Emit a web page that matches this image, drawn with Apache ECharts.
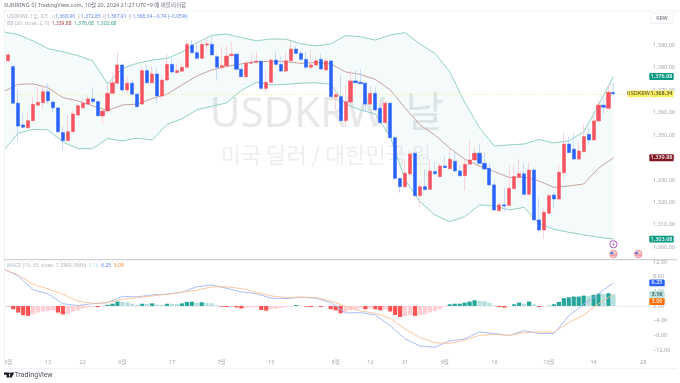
<!DOCTYPE html>
<html><head><meta charset="utf-8">
<style>html,body{margin:0;padding:0;background:#fff}#c{width:680px;height:383px}</style>
<script src="https://cdn.jsdelivr.net/npm/echarts@6/dist/echarts.min.js"></script>
</head><body><div id="c"></div>
<script>
const FONT='"Noto Sans","Noto Sans CJK KR",sans-serif';
const categoryCount=131;
const timeLabels={1:'5월',9:'13',16:'22',24:'6월',34:'17',44:'7월',54:'15',67:'8월',74:'12',81:'21',89:'9월',99:'16',110:'10월',119:'14',129:'28'};
const categories=Array.from({length:categoryCount},(_,i)=>timeLabels[i]||'');
const priceTicks=[1300,1310,1320,1330,1340,1350,1360,1370,1380,1390];
const macdTicks=[-12,-8,-4,0,4,8];

const opens=[1373.8,1383.1,1380.5,1364.2,1354.5,1353.2,1356.4,1363.3,1364.4,1369.3,1364.7,1362.1,1351.1,1347.5,1351.5,1358.9,1362.2,1363.8,1366.1,1364.9,1358.5,1360.7,1368.6,1373.1,1381.2,1370.1,1373.1,1368.2,1363.8,1378.7,1373.3,1377.2,1367.4,1374.5,1381.5,1377.8,1378.4,1380.2,1390.1,1386.7,1384.2,1390.1,1390.4,1384.9,1380.2,1380.8,1385.4,1386.0,1379.3,1376.0,1382.0,1382.4,1382.9,1370.8,1373.5,1383.4,1381.5,1378.5,1383.1,1388.3,1386.4,1383.7,1380.2,1381.2,1383.7,1379.0,1383.0,1367.0,1367.1,1356.4,1364.7,1374.1,1373.5,1373.1,1363.8,1368.6,1361.9,1355.5,1364.2,1348.8,1330.7,1327.0,1332.7,1341.9,1323.0,1327.0,1325.8,1333.7,1331.5,1336.2,1335.0,1338.3,1334.0,1331.9,1337.0,1338.9,1341.9,1337.4,1335.2,1327.8,1316.3,1318.9,1318.7,1326.1,1331.2,1332.7,1323.6,1334.4,1312.2,1307.7,1315.2,1323.3,1321.5,1333.2,1346.0,1343.7,1339.3,1342.6,1350.3,1347.8,1356.3,1363.3,1361.9,1368.96];
const closes=[1383.4,1385.7,1364.2,1354.0,1353.5,1356.4,1363.7,1364.6,1369.3,1365.3,1362.2,1351.5,1347.5,1351.5,1359.4,1363.1,1364.2,1366.1,1364.9,1358.6,1360.7,1368.6,1373.3,1381.2,1370.1,1373.1,1368.2,1362.6,1378.7,1373.3,1377.2,1367.4,1374.5,1381.5,1378.1,1378.7,1380.2,1390.4,1386.7,1384.2,1390.4,1390.6,1385.7,1380.2,1380.9,1385.2,1386.0,1379.3,1376.0,1382.0,1382.4,1382.9,1370.8,1373.5,1383.4,1381.5,1378.5,1383.1,1388.3,1386.4,1383.7,1380.2,1381.2,1383.1,1379.4,1383.0,1367.1,1368.0,1356.4,1364.9,1374.1,1373.3,1372.9,1363.8,1368.6,1361.2,1355.5,1364.2,1348.8,1330.7,1327.0,1333.0,1341.6,1323.0,1327.0,1325.7,1334.0,1332.8,1336.2,1335.5,1339.2,1334.0,1331.9,1337.0,1338.9,1341.9,1337.4,1334.9,1327.8,1316.6,1318.9,1318.4,1326.3,1331.5,1332.8,1323.6,1334.4,1312.2,1307.7,1315.6,1323.0,1321.5,1333.4,1346.0,1342.2,1339.3,1342.9,1349.3,1347.8,1356.3,1363.4,1362.4,1369.1,1368.34];
const lows=[1373.6,1382.5,1363.8,1347.0,1353.2,1352.7,1356.3,1363.0,1361.2,1363.8,1360.3,1350.9,1343.4,1347.4,1351.4,1358.5,1361.2,1363.4,1364.3,1358.2,1355.2,1360.3,1368.3,1372.8,1369.2,1368.6,1367.8,1362.5,1363.4,1372.8,1372.8,1364.2,1365.6,1374.1,1377.6,1377.4,1378.1,1379.9,1386.6,1383.9,1383.9,1387.1,1385.2,1374.5,1379.0,1380.3,1384.8,1379.0,1375.9,1375.6,1381.7,1382.1,1370.1,1369.3,1373.2,1381.2,1378.1,1378.1,1383.0,1386.1,1383.4,1379.3,1379.3,1380.8,1379.0,1378.5,1367.0,1361.2,1356.0,1353.7,1364.3,1373.2,1372.8,1360.4,1363.4,1360.7,1355.4,1355.4,1348.7,1330.3,1324.3,1326.3,1331.2,1322.6,1317.8,1325.5,1325.5,1332.4,1331.1,1335.1,1334.7,1333.5,1331.5,1325.2,1336.7,1338.6,1337.1,1334.4,1327.3,1316.2,1316.0,1315.9,1318.4,1325.8,1329.2,1323.3,1323.3,1311.7,1306.5,1303.6,1314.8,1317.4,1321.1,1330.7,1341.8,1338.9,1338.9,1342.2,1345.6,1347.4,1355.4,1359.4,1361.6,1367.91];
const highs=[1384.3,1387.1,1380.8,1370.1,1359.8,1359.8,1367.1,1371.5,1372.3,1373.1,1365.6,1362.5,1353.7,1358.9,1361.2,1364.2,1366.4,1367.8,1371.3,1365.6,1361.9,1372.3,1376.8,1387.1,1382.1,1376.0,1374.5,1368.6,1380.5,1381.2,1380.5,1379.7,1376.8,1386.4,1384.2,1382.0,1382.0,1392.3,1392.3,1390.9,1392.3,1393.8,1393.8,1385.7,1389.4,1390.1,1391.6,1386.6,1382.0,1383.4,1386.4,1387.1,1383.0,1379.0,1383.9,1387.1,1384.9,1387.0,1391.6,1389.7,1387.9,1387.1,1387.9,1385.7,1386.4,1384.2,1383.4,1369.3,1376.8,1372.3,1379.3,1379.0,1379.3,1373.6,1372.3,1371.5,1363.4,1365.6,1364.3,1350.0,1330.9,1339.2,1343.4,1342.5,1329.2,1334.8,1339.2,1338.1,1337.7,1340.4,1344.8,1343.4,1336.7,1338.9,1347.8,1344.8,1345.9,1342.3,1337.4,1330.0,1320.3,1326.4,1336.2,1336.7,1339.2,1337.4,1338.0,1335.2,1321.8,1317.4,1324.1,1324.8,1336.7,1351.1,1349.3,1350.8,1347.0,1354.9,1353.7,1358.9,1366.0,1365.6,1372.3,1372.85];

const bandIndex=[0,3,6,9,12,15,18,21,24,27,30,33,36,39,42,45,48,51,54,57,60,63,66,69,72,75,78,81,84,87,90,93,96,99,102,105,108,111,114,117,120,123];
const bbUpper=[1396.0,1394.7,1391.9,1388.5,1387.1,1385.4,1383.1,1372.8,1379.7,1382.0,1383.4,1384.2,1386.9,1391.1,1394.4,1395.0,1393.4,1392.0,1392.8,1392.7,1390.6,1389.7,1390.6,1394.3,1393.8,1392.3,1394.6,1395.6,1390.6,1386.4,1378.2,1364.7,1353.2,1345.1,1345.6,1346.0,1348.0,1346.5,1347.4,1351.4,1363.4,1376.08];
const bbBasis=[1369.3,1372.6,1372.8,1371.1,1366.7,1365.2,1363.0,1360.9,1363.4,1363.8,1366.2,1368.2,1372.3,1376.3,1379.0,1380.5,1381.7,1382.7,1382.8,1382.7,1381.9,1382.3,1381.7,1378.1,1377.0,1374.8,1370.1,1362.1,1354.5,1350.0,1344.2,1339.3,1336.2,1333.7,1331.1,1331.3,1329.5,1326.7,1327.3,1328.2,1335.2,1339.88];
const bbLower=[1342.9,1350.9,1352.5,1352.3,1346.9,1344.0,1343.9,1348.5,1347.4,1348.6,1347.8,1354.7,1357.2,1361.2,1362.8,1364.3,1369.9,1373.5,1372.3,1372.6,1373.1,1373.3,1372.6,1363.7,1361.2,1359.3,1349.3,1330.0,1320.3,1314.4,1311.4,1313.6,1318.9,1318.4,1316.6,1317.8,1310.7,1308.0,1306.7,1305.5,1304.5,1303.68];

const macdLine=[10.0,8.15,4.4,3.3,0.6,0.1,0.6,0.9,2.6,2.45,3.0,3.2,3.7,5.2,5.7,4.8,3.8,3.35,2.1,2.0,2.35,2.1,0.9,-1.9,-1.8,-2.45,-5.4,-8.9,-10.9,-11.2,-9.5,-9.0,-7.05,-7.5,-8.0,-6.7,-7.5,-7.5,-2.7,0.45,3.35,6.25];
const signalLine=[10.0,8.4,5.9,4.6,3.2,1.3,0.7,0.9,1.8,2.3,2.7,3.2,3.7,4.25,5.2,5.2,4.7,3.7,2.7,2.25,2.45,2.25,1.35,-0.1,-1.35,-2.0,-3.35,-6.3,-8.6,-10.0,-10.15,-9.3,-8.0,-7.7,-8.0,-7.25,-7.05,-7.15,-4.5,-2.45,0.6,3.09];
const histogram=[0,-0.1,-0.9,-1.8,-2.5,-2.7,-2.3,-1.8,-1.5,-1.4,-1.2,-1.8,-2.3,-2.1,-1.5,-1.2,-0.7,-0.45,-0.25,-0.3,-0.1,0.3,0.6,1.2,1.1,1.0,0.6,0.3,0.6,0.55,0.7,0.35,0.3,0.6,0.55,0.5,0.7,1.1,1.15,0.8,1.0,0.8,0.7,0.2,-0.2,-0.3,-0.2,-0.4,-0.7,-0.45,-0.45,-0.4,-1.1,-1.3,-0.9,-0.7,-0.5,-0.3,-0.1,0.25,0.15,-0.15,-0.3,-0.15,-0.25,-0.15,-0.9,-1.2,-2.0,-1.6,-1.2,-0.9,-0.7,-0.9,-0.65,-0.9,-1.2,-0.9,-1.5,-2.45,-3.0,-2.8,-2.5,-2.7,-2.45,-2.3,-1.8,-1.4,-0.9,-0.25,0.45,0.6,0.6,0.9,1.2,1.55,1.35,1.3,0.8,0.15,-0.3,-0.45,-0.15,0.45,0.9,0.6,1.2,0.45,-0.3,-0.15,0.1,0.45,1.1,2.1,2.35,2.55,2.55,2.8,2.7,3.0,3.35,3.25,3.45,3.16];

const priceLast=1368.34, fmt2=v=>(v<0?'−':'')+Math.abs(v).toLocaleString('en-US',{minimumFractionDigits:2,maximumFractionDigits:2});
const pts=a=>a.map((v,i)=>[bandIndex[i],v]);
const GREY='#a3a6ae';

const chart=echarts.init(document.getElementById('c'),null,{renderer:'canvas'});
const histColor=p=>{const v=histogram[p.dataIndex],prev=p.dataIndex?histogram[p.dataIndex-1]:0;
  return v>=0?(v>=prev?'#26a69a':'#b2dfdb'):(v<prev?'#ff5252':'#ffcdd2');};
const xBase={type:'category',data:categories,boundaryGap:true,axisLine:{show:false},axisTick:{show:false},splitLine:{show:false}};
const yBase={type:'value',position:'right',scale:false,axisLine:{show:false},axisTick:{show:false},splitLine:{show:false}};
chart.setOption({
 animation:false,backgroundColor:'#fff',
 grid:[{left:0.86,width:649.76,top:11,height:249},{left:0.86,width:649.76,top:261,height:96}],
 xAxis:[Object.assign({gridIndex:0,axisLabel:{show:false}},xBase),
        Object.assign({gridIndex:1,axisLabel:{show:true,interval:0,fontSize:5.5,color:GREY,fontFamily:FONT,margin:2.5}},xBase)],
 yAxis:[Object.assign({gridIndex:0,min:1294.34,max:1405.26,axisLabel:{customValues:priceTicks,fontSize:5.5,color:GREY,fontFamily:FONT,margin:2.5,formatter:v=>fmt2(v)}},yBase),
        Object.assign({gridIndex:1,min:-13.86,max:12.2,axisLabel:{customValues:macdTicks,fontSize:5.5,color:GREY,fontFamily:FONT,margin:2.5,formatter:v=>fmt2(v)}},yBase)],
 series:[
  {type:'line',name:'BB lower',stack:'bb',data:pts(bbLower),showSymbol:false,silent:true,z:2,lineStyle:{color:'#85cbc0',width:0.9}},
  {type:'line',name:'BB upper',stack:'bb',data:pts(bbUpper.map((u,i)=>u-bbLower[i])),showSymbol:false,silent:true,z:2,
    lineStyle:{color:'#85cbc0',width:0.9},areaStyle:{color:'rgba(8,153,129,0.055)'}},
  {type:'line',name:'BB basis',data:pts(bbBasis),showSymbol:false,silent:true,z:3,lineStyle:{color:'#bd9895',width:0.9}},
  {type:'candlestick',name:'wicks',data:opens.map((o,i)=>[o,closes[i],lows[i],highs[i]]),barWidth:1,silent:true,z:4,
    itemStyle:{color:'#f9c9ce',color0:'#bcd0fb',borderColor:'#f9c9ce',borderColor0:'#bcd0fb',borderColorDoji:'#f9c9ce',borderWidth:0.8},
    markLine:{silent:true,symbol:'none',label:{show:false},data:[{yAxis:priceLast}],lineStyle:{type:[1,2],color:'#f5e86e',width:0.8}}},
  {type:'candlestick',name:'USDKRW',data:opens.map((o,i)=>[o,closes[i],Math.min(o,closes[i]),Math.max(o,closes[i])]),barWidth:3.6,silent:true,z:5,
    itemStyle:{color:'#f7525f',color0:'#2962ff',borderColor:'#f7525f',borderColor0:'#2962ff',borderColorDoji:'#f7525f',borderWidth:0.5}},
  {type:'bar',name:'Histogram',xAxisIndex:1,yAxisIndex:1,data:histogram,barWidth:4.2,silent:true,z:3,itemStyle:{color:histColor},
    markLine:{silent:true,symbol:'none',label:{show:false},z:1,data:[{yAxis:0}],lineStyle:{type:'dashed',color:'#d5d7dd',width:0.6}}},
  {type:'line',name:'MACD',xAxisIndex:1,yAxisIndex:1,data:pts(macdLine),showSymbol:false,silent:true,z:4,lineStyle:{color:'#9db5f6',width:0.9}},
  {type:'line',name:'Signal',xAxisIndex:1,yAxisIndex:1,data:pts(signalLine),showSymbol:false,silent:true,z:4,lineStyle:{color:'#f9c096',width:0.9}}
 ]
});

const py=v=>chart.convertToPixel({yAxisIndex:0},v), my=v=>chart.convertToPixel({yAxisIndex:1},v), bx=i=>chart.convertToPixel({xAxisIndex:0},i);
function tag(x,w,cy,fill,txt,col){return [
  {type:'rect',z:50,shape:{x,y:cy-3.4,width:w,height:6.8,r:1},style:{fill}},
  {type:'text',z:51,x:x+w/2,y:cy,style:{text:txt,fill:col||'#fff',font:'500 5.5px '+FONT,align:'center',verticalAlign:'middle'}}];}
function line(x1,y1,x2,y2,stroke,w){return {type:'line',z:40,shape:{x1,y1,x2,y2},style:{stroke,lineWidth:w||1}};}
const legendRich=(t,c)=>'{'+c+'|'+t+'}';
const rich={g:{fill:'#b2b5be',font:'5px '+FONT},b:{fill:'#5f86ee',font:'5px '+FONT},
  r:{fill:'#a33c42',font:'5px '+FONT},t:{fill:'#2f9e8d',font:'5px '+FONT},
  lt:{fill:'#b2dfdb',font:'5px '+FONT},o:{fill:'#f58a3c',font:'5px '+FONT}};
const g=[
 {type:'text',z:0,x:327,y:115.5,style:{text:'USDKRW, 날',fill:'#e7e8ea',font:'42px "Noto Sans","Noto Sans CJK KR"',align:'center',verticalAlign:'middle'}},
 {type:'text',z:0,x:326,y:155,style:{text:'미국 달러 / 대한민국 원',fill:'#eeeef0',font:'22px "Noto Sans CJK KR"',align:'center',verticalAlign:'middle'}},
 {type:'rect',z:39,shape:{x:0,y:11,width:4,height:357},style:{fill:'#fff'}},
 line(4.5,11,4.5,368,'#f0f3fa'),
 line(4,11,680,11,'#f0f3fa'),
 line(4,259.6,677,259.6,'#cfd0d3',1.4),
 line(4,368.5,677,368.5,'#f0f3fa'),
 {type:'text',z:41,x:653,y:my(12)+0.4,style:{text:'12.00',fill:GREY,font:'5.5px '+FONT,verticalAlign:'middle'}},
 {type:'text',z:41,x:4,y:5.7,style:{text:'SURIRING 이 TradingView.com, 10월 20, 2024 21:27 UTC+9 에 퍼블리쉬함',fill:'#6a6d78',font:'5.5px '+FONT,verticalAlign:'middle'}},
 {type:'text',z:41,x:7,y:16.7,style:{text:legendRich('USDKRW, 1일, ICE  시','g')+legendRich('1,368.96','b')+legendRich(' 고','g')+legendRich('1,372.85','b')+legendRich(' 저','g')+legendRich('1,367.91','b')+legendRich(' 종','g')+legendRich('1,368.34 −0.74 (−0.05%)','b'),rich,verticalAlign:'middle'}},
 {type:'text',z:41,x:7,y:23.7,style:{text:legendRich('BB (20, close, 2, 0)  ','g')+legendRich('1,339.88','r')+legendRich('  ','g')+legendRich('1,376.08','t')+legendRich('  ','g')+legendRich('1,303.68','t'),rich,verticalAlign:'middle'}},
 {type:'text',z:41,x:7,y:266,style:{text:legendRich('MACD (15, 30, close, 7, EMA, EMA)  ','g')+legendRich('3.16','lt')+legendRich('  ','g')+legendRich('6.25','b')+legendRich('  ','g')+legendRich('3.09','o'),rich,verticalAlign:'middle'}},
 {type:'rect',z:50,shape:{x:650.5,y:13.5,width:23,height:10,r:2},style:{fill:'#fff',stroke:'#eceef2',lineWidth:0.8}},
 {type:'text',z:51,x:662,y:18.5,style:{text:'KRW',fill:'#5d606b',font:'5.2px '+FONT,align:'center',verticalAlign:'middle'}},
 ...tag(649.3,24.4,py(1376.08),'#089981','1,376.08'),
 ...tag(627.7,21,py(priceLast),'#fbec5d','USDKRW','#5a5a3a'),
 ...tag(649.3,24.4,py(priceLast),'#fbec5d','1,368.34','#4a4a30'),
 ...tag(649.3,24.4,py(1339.88),'#801922','1,339.88'),
 ...tag(649.3,24.4,py(1303.68),'#089981','1,303.68'),
 ...tag(649.3,15.4,my(6.25),'#2962ff','6.25'),
 ...tag(649.3,15.4,my(3.16),'#b2dfdb','3.16','#2a3a38'),
 ...tag(649.3,15.4,my(3.09)+7,'#ff6d00','3.09'),
 {type:'circle',z:45,shape:{cx:bx(123),cy:244.3,r:3.6},style:{fill:'#fff',stroke:'#ab47bc',lineWidth:0.9}},
 {type:'polygon',z:46,shape:{points:[[bx(123)+0.9,241.8],[bx(123)-1.2,244.7],[bx(123)-0.1,244.7],[bx(123)-0.9,246.8],[bx(123)+1.2,243.9],[bx(123)+0.1,243.9]]},style:{fill:'#ab47bc'}},
 ...[123,128].flatMap(i=>{const x=bx(i);return [
  {type:'circle',z:45,shape:{cx:x,cy:254,r:3.7},style:{fill:'#f6cfd2',stroke:'#f0868e',lineWidth:0.9}},
  {type:'rect',z:46,shape:{x:x-3,y:252,width:3,height:2},style:{fill:'#5b7fd8'}},
  {type:'rect',z:46,shape:{x:x-2.8,y:254.6,width:5.6,height:0.8},style:{fill:'#ee6f78'}}];}),
 {type:'polygon',z:41,shape:{points:[[4,372.6],[9,372.6],[9,377.6],[6.6,377.6],[6.6,374.8],[4,374.8]]},style:{fill:'#131722'}},
 {type:'circle',z:41,shape:{cx:10.2,cy:373.6,r:1},style:{fill:'#131722'}},
 {type:'polygon',z:41,shape:{points:[[11.5,372.6],[14.2,372.6],[11.6,377.6],[9,377.6]]},style:{fill:'#131722'}},
 {type:'text',z:41,x:15,y:375.2,style:{text:'TradingView',fill:'#5a5d67',font:'500 6.4px '+FONT,verticalAlign:'middle'}}
];
chart.setOption({graphic:g});
</script></body></html>
